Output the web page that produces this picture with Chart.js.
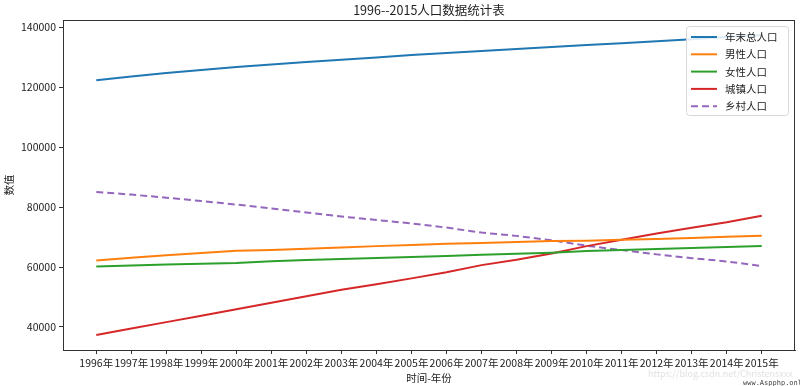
<!DOCTYPE html>
<html>
<head>
<meta charset="utf-8">
<script src="https://cdn.jsdelivr.net/npm/chart.js@4/dist/chart.umd.min.js"></script>
<style>
  html, body { margin: 0; padding: 0; background: #fff; }
  #wrap { width: 800px; height: 386px; position: relative; }
</style>
</head>
<body>
<div id="wrap"><canvas id="chartjs-0"></canvas></div>
<script>
// 数据（万人）
var years = ["1996年", "1997年", "1998年", "1999年", "2000年", "2001年", "2002年", "2003年", "2004年", "2005年",
             "2006年", "2007年", "2008年", "2009年", "2010年", "2011年", "2012年", "2013年", "2014年", "2015年"];
var totalPop = [122389, 123626, 124761, 125786, 126743, 127627, 128453, 129227, 129988, 130756,
                131448, 132129, 132802, 133450, 134091, 134735, 135404, 136072, 136782, 137462];
var malePop = [62200, 63131, 63940, 64692, 65437, 65672, 66115, 66556, 66976, 67375,
               67728, 68048, 68357, 68647, 68748, 69068, 69395, 69728, 70079, 70414];
var femalePop = [60189, 60495, 60821, 61094, 61306, 61955, 62338, 62671, 63012, 63381,
                 63720, 64081, 64445, 64803, 65343, 65667, 66009, 66344, 66703, 67048];
var urbanPop = [37304, 39449, 41608, 43748, 45906, 48064, 50212, 52376, 54283, 56212,
                58288, 60633, 62403, 64512, 66978, 69079, 71182, 73111, 74916, 77116];
var ruralPop = [85085, 84177, 83153, 82038, 80837, 79563, 78241, 76851, 75705, 74544,
                73160, 71496, 70399, 68938, 67113, 65656, 64222, 62961, 61866, 60346];
var seriesNames = ["年末总人口", "男性人口", "女性人口", "城镇人口", "乡村人口"];
var yTicks = [40000, 60000, 80000, 100000, 120000, 140000];

var FONT = "'Noto Sans CJK SC', 'DejaVu Sans', sans-serif";
var colors = ["#1f77b4", "#ff7f0e", "#2ca02c", "#d62728", "#9467bd"];

function toPoints(arr) {
    var out = [];
    for (var i = 0; i < arr.length; i++) {
        out.push({ x: i, y: arr[i] });
    }
    return out;
}

var allSeries = [totalPop, malePop, femalePop, urbanPop, ruralPop];
var datasets = [];
for (var s = 0; s < allSeries.length; s++) {
    datasets.push({
        label: seriesNames[s],
        data: toPoints(allSeries[s]),
        borderColor: colors[s],
        backgroundColor: colors[s],
        borderWidth: 2,
        pointRadius: 0,
        borderDash: s == 4 ? [7, 4] : [],
        fill: false,
        tension: 0
    });
}

// matplotlib 风格的 5% 边距
var allVals = [].concat(totalPop, malePop, femalePop, urbanPop, ruralPop);
var dMin = Math.min.apply(null, allVals), dMax = Math.max.apply(null, allVals);
var yPad = (dMax - dMin) * 0.05;
var xPad = (years.length - 1) * 0.05;

var decor = {
    id: "decor",
    afterDraw: function (chart) {
        var ctx = chart.ctx, a = chart.chartArea;
        ctx.save();
        // 边框
        ctx.strokeStyle = "#333";
        ctx.lineWidth = 1;
        ctx.strokeRect(a.left + 0.5, a.top + 0.5, a.right - a.left - 1, a.bottom - a.top);
        // 标题
        ctx.fillStyle = "#222";
        ctx.textAlign = "center";
        ctx.textBaseline = "middle";
        ctx.font = "12.5px " + FONT;
        ctx.fillText("1996--2015人口数据统计表", (a.left + a.right) / 2, 10);
        // 轴标题
        ctx.font = "10.5px " + FONT;
        ctx.fillText("时间-年份", (a.left + a.right) / 2, 378);
        ctx.translate(9, (a.top + a.bottom) / 2);
        ctx.rotate(-Math.PI / 2);
        ctx.fillText("数值", 0, 0);
        ctx.restore();

        // 图例
        ctx.save();
        var lx = 686, ly = 26, lw = 102, lh = 89;
        ctx.fillStyle = "rgba(255,255,255,0.85)";
        ctx.strokeStyle = "#d8d8d8";
        ctx.lineWidth = 1;
        ctx.beginPath();
        ctx.roundRect(lx + 0.5, ly + 0.5, lw, lh, 3);
        ctx.fill();
        ctx.stroke();
        ctx.font = "10.5px " + FONT;
        ctx.textAlign = "left";
        ctx.textBaseline = "middle";
        for (var i = 0; i < chart.data.datasets.length; i++) {
            var ds = chart.data.datasets[i];
            var yy = ly + 11 + i * 17.3;
            ctx.strokeStyle = ds.borderColor;
            ctx.lineWidth = 2;
            ctx.setLineDash(ds.borderDash);
            ctx.beginPath();
            ctx.moveTo(lx + 5, yy);
            ctx.lineTo(lx + 31, yy);
            ctx.stroke();
            ctx.setLineDash([]);
            ctx.fillStyle = "#222";
            ctx.fillText(ds.label, lx + 39, yy);
        }
        ctx.restore();

        // 水印
        ctx.save();
        ctx.font = "9px " + FONT;
        ctx.fillStyle = "rgba(200,200,200,0.55)";
        ctx.textAlign = "left";
        ctx.textBaseline = "middle";
        ctx.fillText("https://blog.csdn.net/Christensxxx", 648, 374);
        ctx.fillStyle = "#444";
        ctx.font = "7px 'DejaVu Sans Mono', monospace";
        ctx.fillText("www.Aspphp.online", 743, 383);
        ctx.restore();
    }
};

var ctx = document.getElementById("chartjs-0");
var myChart = new Chart(ctx, {
    type: "line",
    data: { datasets: datasets },
    options: {
        responsive: true,
        maintainAspectRatio: false,
        animation: false,
        layout: { padding: { top: 20, right: 5, left: 0, bottom: 0 } },
        plugins: {
            legend: { display: false },
            tooltip: { enabled: false }
        },
        scales: {
            x: {
                type: "linear",
                min: -xPad,
                max: years.length - 1 + xPad,
                afterBuildTicks: function (scale) {
                    scale.ticks = years.map(function (y, i) { return { value: i }; });
                },
                afterFit: function (scale) { scale.height = 36; },
                ticks: {
                    autoSkip: false,
                    maxRotation: 0,
                    padding: 3,
                    color: "#222",
                    font: { family: FONT, size: 10.5 },
                    callback: function (v) { return years[v]; }
                },
                grid: { drawOnChartArea: false, drawTicks: true, tickLength: 4, color: "#333" },
                border: { display: true, color: "#333" }
            },
            y: {
                min: dMin - yPad,
                max: dMax + yPad,
                afterBuildTicks: function (scale) {
                    scale.ticks = yTicks.map(function (v) { return { value: v }; });
                },
                afterFit: function (scale) { scale.width = 63; },
                ticks: {
                    padding: 3,
                    color: "#222",
                    font: { family: FONT, size: 10.5 },
                    callback: function (v) { return String(v); }
                },
                grid: { drawOnChartArea: false, drawTicks: true, tickLength: 4, color: "#333" },
                border: { display: true, color: "#333" }
            }
        }
    },
    plugins: [decor]
});
</script>
</body>
</html>
